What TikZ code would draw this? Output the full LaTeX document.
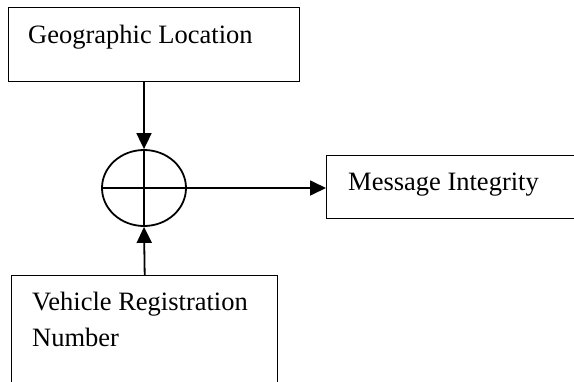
\documentclass[tikz,border=0pt]{standalone}
\usepackage{fontspec}
\setmainfont{Liberation Serif}
\usetikzlibrary{arrows.meta, shapes.geometric}

\begin{document}
\begin{tikzpicture}[x=1pt, y=-1pt,
    blockbox/.style={draw, line width=1.4pt, anchor=north west, inner sep=0pt},
    boxtext/.style={anchor=base west, inner sep=0pt, align=left,
        font=\fontsize{26.5}{36}\selectfont},
    flow/.style={line width=1.8pt, -{Triangle[length=16pt, width=15pt]}}]
                \useasboundingbox (0,0) rectangle (574,381);
                \clip (0,0) rectangle (574,381);
                % boxes
                \node[blockbox, minimum width=291, minimum height=74] (geo) at (8,7) {};
                \node[blockbox, minimum width=264, minimum height=63] (msg) at (326,155) {};
                \node[blockbox, minimum width=266, minimum height=125] (vrn) at (11,275) {};
                \node[boxtext] (geotext) at (28,43) {Geographic Location};
                \node[boxtext] (msgtext) at (348,190) {Message Integrity};
                \node[boxtext] (vrntext) at (32,346) {Vehicle Registration\\Number};
                % combiner
                \node[draw, ellipse, line width=1.8pt, inner sep=0pt,
                    minimum width=84, minimum height=76] (sum) at (144,188) {};
                \draw[line width=1.8pt] (sum.north) -- (sum.south) (sum.west) -- (sum.east);
                % arrows
                \draw[flow] (geo.south -| sum.north) -- (sum.north);
                \draw[flow] (vrn.north) -- (sum.south);
                \draw[flow] (sum.east) -- (sum.east -| msg.west);
            \end{tikzpicture}
\end{document}
